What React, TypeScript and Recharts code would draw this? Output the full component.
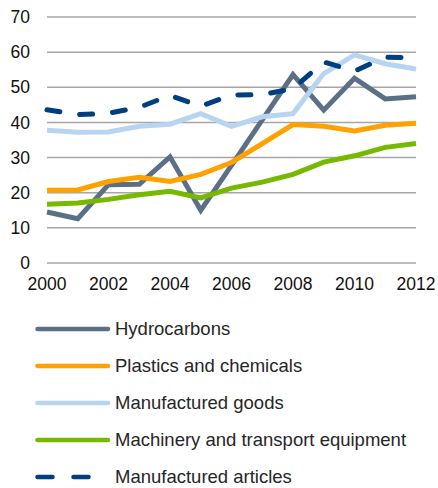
import React from 'react';
import { LineChart, Line, XAxis, YAxis, CartesianGrid, Legend } from 'recharts';

const years = [2000, 2001, 2002, 2003, 2004, 2005, 2006, 2007, 2008, 2009, 2010, 2011, 2012];
const hydrocarbons = [14.5, 12.6, 22.3, 22.4, 30.2, 15.0, 27.8, 40.7, 53.6, 43.5, 52.6, 46.7, 47.3];
const plastics = [20.7, 20.8, 23.2, 24.4, 23.2, 25.2, 28.6, 34.0, 39.4, 38.9, 37.6, 39.2, 39.8];
const manufacturedGoods = [37.8, 37.2, 37.3, 38.9, 39.5, 42.5, 38.9, 41.6, 42.5, 53.9, 59.2, 56.7, 55.2];
const machinery = [16.7, 17.1, 18.1, 19.4, 20.4, 18.5, 21.3, 23.0, 25.2, 28.7, 30.5, 32.9, 34.0];
const articles = [43.6, 42.2, 42.6, 44.3, 47.7, 44.6, 47.8, 47.9, 49.6, 57.2, 54.6, 58.6, 58.3];

const yTicks = [0, 10, 20, 30, 40, 50, 60, 70];
const xTicks = [2000, 2002, 2004, 2006, 2008, 2010, 2012];

const seriesNames = ['Hydrocarbons', 'Plastics and chemicals', 'Manufactured goods', 'Machinery and transport equipment', 'Manufactured articles'];
const seriesKeys = ['hydro', 'plastics', 'goods', 'machinery', 'articles'];
const seriesColors = ['#5b7086', '#ffa200', '#b7d4f1', '#77b900', '#003f7f'];

const data = years.map((y, i) => ({
  year: y,
  hydro: hydrocarbons[i],
  plastics: plastics[i],
  goods: manufacturedGoods[i],
  machinery: machinery[i],
  articles: articles[i],
}));

const FONT = '"Liberation Sans", Arial, sans-serif';

const LegendContent = () => (
  <div style={{ height: 195, paddingTop: 18, boxSizing: 'border-box', fontFamily: FONT }}>
    {seriesNames.map((name, i) => (
      <div key={name} style={{ height: 36.8, display: 'flex', alignItems: 'center' }}>
        <svg width={78} height={10} style={{ marginLeft: 35, display: 'block' }}>
          <line
            x1={2.5}
            y1={5}
            x2={i === 4 ? 58 : 73}
            y2={5}
            stroke={seriesColors[i]}
            strokeWidth={4.5}
            strokeLinecap="round"
            strokeDasharray={i === 4 ? '15 21' : undefined}
          />
        </svg>
        <span style={{ fontSize: 18.5, color: '#262626', marginLeft: 2 }}>{name}</span>
      </div>
    ))}
  </div>
);

export default function App() {
  return (
    <div style={{ position: 'absolute', left: 0, top: 0 }}>
      <LineChart width={438} height={488} data={data} margin={{ top: 17, right: 22, left: 0, bottom: 0 }}>
        <CartesianGrid horizontal vertical={false} stroke="#a6a6a6" strokeWidth={1.5} />
        <XAxis
          dataKey="year"
          type="number"
          domain={[2000, 2012]}
          ticks={xTicks}
          axisLine={false}
          tickLine={false}
          tickSize={0}
          tickMargin={15}
          height={30}
          tick={{ fill: '#111', fontSize: 17.5, fontFamily: FONT }}
        />
        <YAxis
          domain={[0, 70]}
          ticks={yTicks}
          axisLine={false}
          tickLine={false}
          tickSize={0}
          tickMargin={17}
          width={47}
          interval={0}
          tick={{ fill: '#111', fontSize: 17.5, fontFamily: FONT }}
        />
        <Legend verticalAlign="bottom" layout="horizontal" height={195} content={<LegendContent />} />
        {seriesKeys.map((k, i) => (
          <Line
            key={k}
            dataKey={k}
            name={seriesNames[i]}
            stroke={seriesColors[i]}
            strokeWidth={5}
            dot={false}
            activeDot={false}
            type="linear"
            strokeLinecap={i === 4 ? 'round' : 'butt'}
            strokeDasharray={i === 4 ? '13 20' : undefined}
            isAnimationActive={false}
          />
        ))}
      </LineChart>
    </div>
  );
}
